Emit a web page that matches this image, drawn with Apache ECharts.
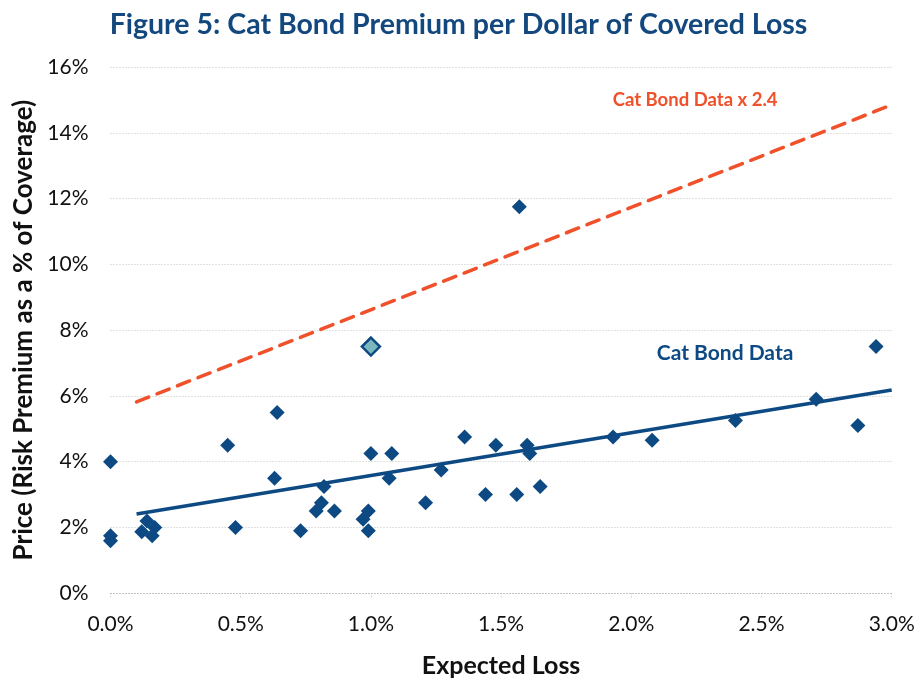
<!DOCTYPE html>
<html>
<head>
<meta charset="utf-8">
<script src="https://cdn.jsdelivr.net/npm/echarts@6/dist/echarts.min.js"></script>
<style>
  html, body { margin: 0; padding: 0; background: #ffffff; }
  #chart { width: 917px; height: 679px; }
</style>
</head>
<body>
<div id="chart"></div>
<script>
// Expected loss (%) and risk premium (% of coverage) for each cat bond
const expectedLoss = [0.0, 0.0, 0.0, 0.12, 0.14, 0.17, 0.16, 0.45, 0.48, 0.64, 0.63, 0.73, 0.82, 0.81, 0.79, 0.86,
  1.0, 1.08, 1.07, 0.99, 0.97, 0.99, 1.36, 1.21, 1.27, 1.48, 1.6, 1.61, 1.44, 1.56, 1.65, 1.93, 2.08,
  2.4, 2.71, 2.87, 2.94, 1.57];
const riskPremium = [4.0, 1.75, 1.6, 1.87, 2.2, 2.0, 1.75, 4.5, 2.0, 5.5, 3.5, 1.9, 3.25, 2.75, 2.5, 2.5,
  4.25, 4.25, 3.5, 2.5, 2.25, 1.9, 4.75, 2.75, 3.75, 4.5, 4.5, 4.25, 3.0, 3.0, 3.25, 4.75, 4.65,
  5.25, 5.9, 5.1, 7.5, 11.75];

// Highlighted bond
const highlightLoss = [1.0];
const highlightPremium = [7.5];

// Fitted line through the cat bond data, and the same line scaled by 2.4
const fitLoss = [0.1, 3.0];
const fitPremium = [2.41, 6.18];
const scaledPremium = [5.82, 14.85];

// Line captions, anchored in data units
const captionText = ['Cat Bond Data x 2.4', 'Cat Bond Data'];
const captionLoss = [2.245, 2.36];
const captionPremium = [15.0, 7.3];
const captionSize = [18.5, 21];

// Axis ticks
const yTicks = [0, 2, 4, 6, 8, 10, 12, 14, 16];
const xTicks = [0, 0.5, 1.0, 1.5, 2.0, 2.5, 3.0];

const BLUE = '#0D4A83';
const RED = '#F0502A';
const FONT = 'Lato';

const zip = (a, b) => a.map((v, i) => [v, b[i]]);

const caption = (i, color) => ({
  symbol: 'circle',
  symbolSize: 1,
  itemStyle: { color: 'rgba(0,0,0,0)' },
  label: {
    show: true, position: 'inside', formatter: captionText[i],
    fontFamily: FONT, fontWeight: 'bold', fontSize: captionSize[i], color: color
  },
  data: [{ coord: [captionLoss[i], captionPremium[i]] }]
});

const chart = echarts.init(document.getElementById('chart'), null, { renderer: 'canvas' });

chart.setOption({
  backgroundColor: '#ffffff',
  animation: false,
  title: {
    text: 'Figure 5: Cat Bond Premium per Dollar of Covered Loss',
    left: 'center',
    top: 5,
    textStyle: { fontFamily: FONT, fontWeight: 'bold', fontSize: 28.5, color: '#13487F' }
  },
  grid: {
    left: 110.5, right: 25.3, top: 67, bottom: 85.7,
    containLabel: false, outerBoundsMode: 'none'
  },
  xAxis: {
    type: 'value',
    min: xTicks[0],
    max: xTicks[xTicks.length - 1],
    interval: 0.5,
    name: 'Expected Loss',
    nameLocation: 'middle',
    nameGap: 60,
    nameTextStyle: { fontFamily: FONT, fontWeight: 'bold', fontSize: 25, color: '#111' },
    axisLine: { show: true, lineStyle: { color: '#c0c0c0', type: [1, 2], width: 1 } },
    axisTick: { show: true, length: 6, inside: false, lineStyle: { color: '#c0c0c0', type: [1, 2] } },
    axisLabel: {
      margin: 20,
      fontFamily: FONT, fontSize: 21, color: '#111',
      formatter: v => v.toFixed(1) + '%'
    },
    splitLine: { show: false }
  },
  yAxis: {
    type: 'value',
    min: yTicks[0],
    max: yTicks[yTicks.length - 1],
    interval: 2,
    name: 'Price (Risk Premium as a % of Coverage)',
    nameLocation: 'middle',
    nameGap: 74,
    nameTextStyle: { fontFamily: FONT, fontWeight: 'bold', fontSize: 26, color: '#111' },
    axisLine: { show: false },
    axisTick: { show: false },
    axisLabel: {
      margin: 22,
      fontFamily: FONT, fontSize: 21, color: '#111',
      formatter: v => v + '%'
    },
    splitLine: { show: true, lineStyle: { color: '#c0c0c0', type: [1, 2], width: 1 } }
  },
  series: [
    {
      name: 'Cat Bond Data x 2.4',
      type: 'line',
      data: zip(fitLoss, scaledPremium),
      symbol: 'none',
      lineStyle: { color: RED, width: 3.5, type: [13, 9], cap: 'round' },
      z: 2,
      markPoint: caption(0, RED)
    },
    {
      name: 'Cat Bond Data',
      type: 'line',
      data: zip(fitLoss, fitPremium),
      symbol: 'none',
      lineStyle: { color: BLUE, width: 3.5 },
      z: 2,
      markPoint: caption(1, BLUE)
    },
    {
      name: 'Bonds',
      type: 'scatter',
      data: zip(expectedLoss, riskPremium),
      symbol: 'diamond',
      symbolSize: 15,
      itemStyle: { color: BLUE, opacity: 1 },
      z: 3
    },
    {
      name: 'Highlighted bond',
      type: 'scatter',
      data: zip(highlightLoss, highlightPremium),
      symbol: 'diamond',
      symbolSize: 18,
      itemStyle: { color: '#7DB7BE', borderColor: BLUE, borderWidth: 2.5, opacity: 1 },
      z: 4
    }
  ]
});
</script>
</body>
</html>
